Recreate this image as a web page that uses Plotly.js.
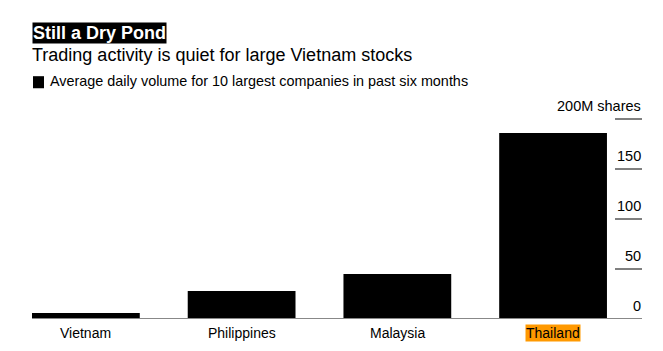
<!DOCTYPE html>
<html>
<head>
<meta charset="utf-8">
<script src="https://cdn.plot.ly/plotly-3.0.1.min.js"></script>
<style>
html,body{margin:0;padding:0;background:#fff;}
#chart{width:663px;height:351px;}
</style>
</head>
<body>
<div id="chart"></div>
<script>
const categories = ["Vietnam", "Philippines", "Malaysia", "Thailand"];
const volumes = [6, 28, 45, 186];
const highlighted = "Thailand";
const yTickVals = [0, 50, 100, 150, 200];
const yTickText = ["0", "50", "100", "150", "200M shares"];

const FONT = "Liberation Sans, Arial, Helvetica, sans-serif";

const trace = {
  type: "bar",
  x: categories.map((c, i) => i),
  y: volumes,
  marker: {color: "#000000"},
  width: 0.692,
  hoverinfo: "skip"
};

const annotations = [
  {text: "<b>Still a Dry Pond</b>", xref: "paper", yref: "paper", x: 0, y: 1, xanchor: "left", yanchor: "top",
   yshift: 96, showarrow: false, font: {family: FONT, size: 18, color: "#ffffff"}, bgcolor: "#000000", borderpad: 0},
  {text: "Trading activity is quiet for large Vietnam stocks", xref: "paper", yref: "paper", x: 0, y: 1,
   xanchor: "left", yanchor: "top", yshift: 75, xshift: -2, showarrow: false,
   font: {family: FONT, size: 18, color: "#000000"}},
  {text: "Average daily volume for 10 largest companies in past six months", xref: "paper", yref: "paper",
   x: 0, y: 1, xanchor: "left", yanchor: "top", yshift: 47, xshift: 16, showarrow: false,
   font: {family: FONT, size: 14.4, color: "#000000"}}
];

categories.forEach((c, i) => {
  annotations.push({
    text: c, xref: "x", yref: "paper", x: i, y: 0, yanchor: "top", xanchor: "center",
    yshift: -5, showarrow: false, font: {family: FONT, size: 14, color: "#000000"},
    bgcolor: c === highlighted ? "#ff9900" : "rgba(0,0,0,0)", borderpad: 0
  });
});

yTickVals.forEach((v, i) => {
  annotations.push({
    text: yTickText[i], xref: "paper", yref: "y", x: 1, y: v, xanchor: "right", yanchor: "bottom",
    yshift: 3, xshift: 1, showarrow: false, font: {family: FONT, size: 14.5, color: "#000000"}
  });
});

const shapes = [];
yTickVals.filter(v => v !== 0).forEach(v => {
  shapes.push({type: "line", xref: "paper", yref: "y", x0: 1 - 27 / 610, x1: 1, y0: v, y1: v,
    line: {color: "#000000", width: 1}, layer: "above"});
});
shapes.push({type: "line", xref: "paper", yref: "y", x0: 0, x1: 1, y0: 0, y1: 0,
  line: {color: "#888888", width: 2}, layer: "above"});
shapes.push({type: "rect", xref: "paper", yref: "paper", x0: 0.0016, x1: 0.0197, y0: 1.148, y1: 1.208,
  fillcolor: "#000000", line: {width: 0}});

const layout = {
  width: 663, height: 351,
  margin: {l: 32, r: 21, t: 118, b: 32},
  paper_bgcolor: "#ffffff", plot_bgcolor: "#ffffff",
  showlegend: false,
  font: {family: FONT, size: 14, color: "#000000"},
  xaxis: {
    range: [-0.346, 3.571], showgrid: false, zeroline: false, showline: false,
    showticklabels: false, ticks: "", fixedrange: true
  },
  yaxis: {
    range: [0, 201], side: "right", showgrid: false, zeroline: false, showline: false,
    showticklabels: false, ticks: "", fixedrange: true
  },
  shapes: shapes,
  annotations: annotations
};

Plotly.newPlot("chart", [trace], layout, {displayModeBar: false, staticPlot: true});
</script>
</body>
</html>
